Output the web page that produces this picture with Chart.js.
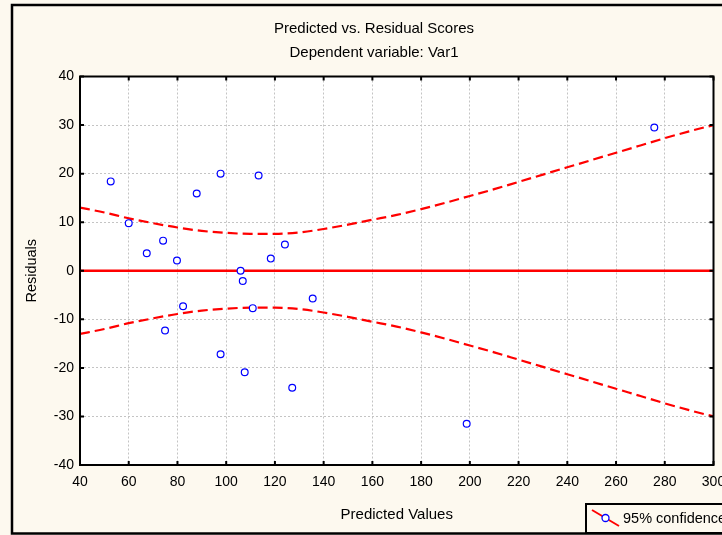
<!DOCTYPE html>
<html>
<head>
<meta charset="utf-8">
<script src="https://cdn.jsdelivr.net/npm/chart.js@4.4.1/dist/chart.umd.min.js"></script>
<style>
  html, body { margin: 0; padding: 0; background: #fdf9ef; overflow: hidden; }
  canvas { display: block; }
</style>
</head>
<body>
<canvas id="residCanvas" width="722" height="535"></canvas>
<script>
// observed scores (predicted value, residual)
const predicted = [52.6, 60.0, 67.4, 74.1, 79.8, 87.9, 97.7, 113.3, 105.9, 106.8, 118.3,
                   124.1, 135.5, 82.3, 74.9, 110.9, 97.7, 107.6, 127.1, 198.7, 275.7];
const residuals = [18.4, 9.8, 3.6, 6.2, 2.1, 15.9, 20.0, 19.6, 0.0, -2.1, 2.5,
                   5.4, -5.7, -7.3, -12.3, -7.7, -17.2, -20.9, -24.1, -31.5, 29.5];

// 95% confidence band
const bandX = [40, 50, 60, 70, 80, 90, 100, 110, 120, 130, 140, 150, 160, 170,
               180, 190, 200, 210, 220, 230, 240, 250, 260, 270, 280, 290, 300];
const bandUpper = [13.0, 12.0, 10.8, 9.8, 8.9, 8.2, 7.8, 7.6, 7.6, 7.9, 8.6, 9.5, 10.5, 11.5,
                   12.7, 14.0, 15.4, 16.8, 18.3, 19.8, 21.3, 22.8, 24.3, 25.8, 27.3, 28.7, 30.0];
const bandLower = [-13.0, -12.0, -10.8, -9.8, -8.9, -8.2, -7.8, -7.6, -7.6, -7.9, -8.6, -9.5, -10.5, -11.5,
                   -12.7, -14.0, -15.4, -16.8, -18.3, -19.8, -21.3, -22.8, -24.3, -25.8, -27.3, -28.7, -30.0];

const zeroX = [40, 300];
const zeroY = [0, 0];

const titleText = 'Predicted vs. Residual Scores';
const subtitleText = 'Dependent variable: Var1';
const legendLabel = '95% confidence';

const FONT = "'Liberation Sans', Arial, sans-serif";
Chart.defaults.font.family = FONT;
Chart.defaults.color = '#000';

const toPts = (xs, ys) => xs.map((x, i) => ({ x: x, y: ys[i] }));

// frame, titles, plot box, inward ticks and the legend box
const decor = {
    id: 'decor',
    beforeDraw(chart) {
        const ctx = chart.ctx;
        const a = chart.chartArea;
        ctx.save();
        ctx.fillStyle = '#fdf9ef';
        ctx.fillRect(0, 0, chart.width, chart.height);
        ctx.fillStyle = '#ffffff';
        ctx.fillRect(a.left, a.top, a.right - a.left, a.bottom - a.top);
        ctx.restore();
    },
    afterDraw(chart) {
        const ctx = chart.ctx;
        const a = chart.chartArea;
        const xs = chart.scales.x, ys = chart.scales.y;
        ctx.save();
        ctx.strokeStyle = '#000';
        ctx.lineWidth = 2;
        ctx.strokeRect(a.left, a.top, a.right - a.left, a.bottom - a.top);
        ctx.beginPath();
        xs.ticks.forEach(t => {
            const px = xs.getPixelForValue(t.value);
            ctx.moveTo(px, a.bottom); ctx.lineTo(px, a.bottom - 4);
            ctx.moveTo(px, a.top); ctx.lineTo(px, a.top + 4);
        });
        ys.ticks.forEach(t => {
            const py = ys.getPixelForValue(t.value);
            ctx.moveTo(a.left, py); ctx.lineTo(a.left + 4, py);
            ctx.moveTo(a.right, py); ctx.lineTo(a.right - 4, py);
        });
        ctx.stroke();

        // outer frame
        ctx.lineWidth = 2.5;
        ctx.strokeRect(12, 5, chart.width + 10, 528.5);

        // titles
        ctx.fillStyle = '#000';
        ctx.font = '15px ' + FONT;
        ctx.textAlign = 'center';
        ctx.textBaseline = 'middle';
        ctx.fillText(titleText, 374, 29);
        ctx.fillText(subtitleText, 374, 53);

        // legend box
        ctx.fillStyle = '#fdf9ef';
        ctx.fillRect(586, 504, 140, 29);
        ctx.lineWidth = 2;
        ctx.strokeRect(586, 504, 140, 29);
        ctx.strokeStyle = '#ff0000';
        ctx.beginPath();
        ctx.moveTo(592, 510); ctx.lineTo(619, 526);
        ctx.stroke();
        ctx.strokeStyle = '#0000ff';
        ctx.lineWidth = 1.3;
        ctx.fillStyle = '#ffffff';
        ctx.beginPath();
        ctx.arc(605.5, 518, 3.5, 0, Math.PI * 2);
        ctx.fill();
        ctx.stroke();
        ctx.fillStyle = '#000';
        ctx.font = '14.5px ' + FONT;
        ctx.textAlign = 'left';
        ctx.fillText(legendLabel, 623, 519);
        ctx.restore();
    }
};

new Chart(document.getElementById('residCanvas'), {
    type: 'scatter',
    data: {
        datasets: [
            {
                label: 'Residuals',
                data: toPts(predicted, residuals),
                showLine: false,
                pointStyle: 'circle',
                pointRadius: 3.4,
                pointBorderWidth: 1.2,
                pointBorderColor: '#0000ff',
                pointBackgroundColor: '#ffffff',
                order: 0
            },
            {
                label: 'upper',
                data: toPts(bandX, bandUpper),
                showLine: true,
                borderColor: '#ff0000',
                borderWidth: 2.2,
                borderDash: [10, 5],
                pointRadius: 0,
                cubicInterpolationMode: 'monotone',
                order: 1
            },
            {
                label: 'lower',
                data: toPts(bandX, bandLower),
                showLine: true,
                borderColor: '#ff0000',
                borderWidth: 2.2,
                borderDash: [10, 5],
                pointRadius: 0,
                cubicInterpolationMode: 'monotone',
                order: 1
            },
            {
                label: 'zero',
                data: toPts(zeroX, zeroY),
                showLine: true,
                borderColor: '#ff0000',
                borderWidth: 2.5,
                pointRadius: 0,
                order: 1
            }
        ]
    },
    options: {
        responsive: false,
        animation: false,
        devicePixelRatio: 1,
        layout: { padding: { left: 0, right: 8.5, top: 76.5, bottom: 0 } },
        plugins: {
            legend: { display: false },
            tooltip: { enabled: false },
            title: { display: false },
            subtitle: { display: false }
        },
        scales: {
            x: {
                type: 'linear',
                min: 40, max: 300,
                ticks: { stepSize: 20, padding: 9, autoSkip: false, maxRotation: 0, minRotation: 0,
                         font: { size: 14 }, color: '#000' },
                grid: { color: '#c4c4c4', lineWidth: 1, drawTicks: false },
                border: { display: false, dash: [2, 2] },
                title: {
                    display: true, text: 'Predicted Values',
                    font: { size: 15 }, color: '#000',
                    padding: { top: 0, bottom: 11 }
                },
                afterFit(scale) {
                    scale.height = 70;
                    scale.paddingLeft = 0;
                    scale.paddingRight = 0;
                }
            },
            y: {
                type: 'linear',
                min: -40, max: 40,
                ticks: { stepSize: 10, padding: 6, autoSkip: false, font: { size: 14 }, color: '#000' },
                grid: { color: '#c4c4c4', lineWidth: 1, drawTicks: false },
                border: { display: false, dash: [2, 2] },
                title: {
                    display: true, text: 'Residuals',
                    font: { size: 14.5 }, color: '#000',
                    padding: { top: 23, bottom: 0 }
                },
                afterFit(scale) {
                    scale.width = 80;
                    scale.paddingTop = 0;
                    scale.paddingBottom = 0;
                }
            }
        }
    },
    plugins: [decor]
});
</script>
</body>
</html>
